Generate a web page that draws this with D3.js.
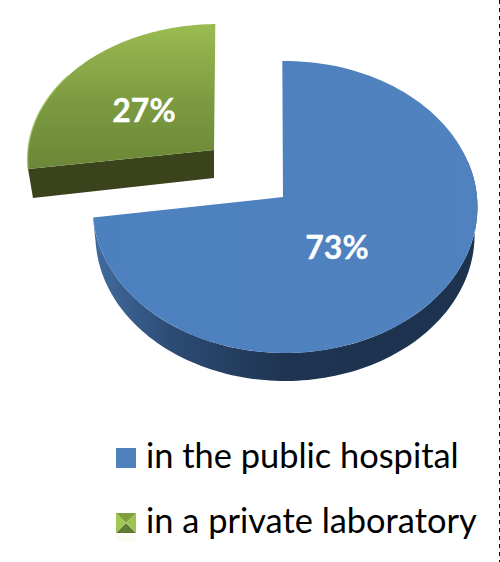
<!DOCTYPE html>
<html>
<head>
<meta charset="utf-8">
<script src="https://cdnjs.cloudflare.com/ajax/libs/d3/7.8.5/d3.min.js"></script>
<style>
html, body { margin: 0; padding: 0; background: #fff; }
svg { display: block; }
</style>
</head>
<body>
<div id="chart"></div>
<script>
const categories = ["in the public hospital", "in a private laboratory"];
const shares = [73, 27];
const shareLabels = ["73%", "27%"];

const width = 500, height = 562;
const tilt = 0.0685;   // perspective of the disc
const depth = 28;
const startAt = -0.015;

// per slice placement of the disc
const placement = [
    { cx: 285, cy: 197, rx: 192, ry: 145.3, shrink: 0.985 },
    { cx: 218, cy: 150, rx: 190, ry: 134.6, shrink: 0.985 }
];
const labelPos = [[337, 247], [144, 110]];
const legendY = [458, 523];

const svg = d3.select('#chart')
    .append('svg')
    .attr('width', width)
    .attr('height', height);

const defs = svg.append('defs');

function linear(id, stops, x1, x2, y2, units) {
    const g = defs.append('linearGradient')
        .attr('id', id)
        .attr('x1', x1).attr('y1', 0)
        .attr('x2', x2).attr('y2', y2);
    if (units) g.attr('gradientUnits', units);
    stops.forEach(s => g.append('stop').attr('offset', s[0]).attr('stop-color', s[1]));
}

linear('blueTop', [[0, '#4d80bf'], [1, '#4f82be']], 0, 1, 0);
linear('blueSide', [[0, '#1c324e'], [0.5, '#1e3450'], [0.8, '#2d4c75'], [1, '#426c9f']], 477, 93, 0, 'userSpaceOnUse');
linear('greenTop', [[0, '#9bbb52'], [0.55, '#7b9a40'], [1, '#6b8738']], 0, 0, 1);

// angle on the disc -> page position, z goes down the rim
function project(p, angle, r, z) {
    const u = Math.sin(angle) * r;
    const v = -Math.cos(angle) * r;
    const w = 1 - tilt * v;
    const s = 1 - (1 - p.shrink) * z / depth;
    return [p.cx + p.rx * u / w * s, p.cy + p.ry * v / w + z];
}

function arcPoints(p, a0, a1, z) {
    return d3.range(0, 121).map(i => project(p, a0 + (a1 - a0) * i / 120, 1, z));
}

const line = d3.line().curve(d3.curveLinear);
const slices = d3.pie().sort(null).startAngle(startAt).endAngle(startAt + 2 * Math.PI)(shares);

// green slice: cut face, then top
const green = slices[1];
const gp = placement[1];
const gLeft = project(gp, green.startAngle, 1, 0);
const gLeftLow = project(gp, green.startAngle, 1, 29);
gLeftLow[0] += 2;
svg.append('path')
    .attr('d', line([gLeft, [gp.cx - 4, gp.cy], [gp.cx - 4, gp.cy + depth], gLeftLow]) + 'Z')
    .attr('fill', '#3a431c');
svg.append('path')
    .attr('d', line([[gp.cx - 4, gp.cy]].concat(arcPoints(gp, green.startAngle, green.endAngle, 0))) + 'Z')
    .attr('fill', 'url(#greenTop)');
svg.append('path')
    .attr('d', line(arcPoints(gp, green.startAngle, green.startAngle + 0.75, 0)))
    .attr('fill', 'none')
    .attr('stroke', '#a3c25e')
    .attr('stroke-width', 1.5)
    .attr('opacity', 0.7);

// blue slice: rim, then top
const blue = slices[0];
const bp = placement[0];
const rimStart = Math.PI * 0.42;
const rimTop = arcPoints(bp, rimStart, blue.endAngle, 0);
const rimLow = arcPoints(bp, rimStart, blue.endAngle, depth).reverse();
svg.append('path')
    .attr('d', line(rimTop.concat(rimLow)) + 'Z')
    .attr('fill', 'url(#blueSide)');

svg.append('path')
    .attr('d', line([[bp.cx - 2, bp.cy]].concat(arcPoints(bp, blue.startAngle, blue.endAngle, 0))) + 'Z')
    .attr('fill', 'url(#blueTop)');

// value labels
svg.selectAll('text.value')
    .data(shareLabels)
    .enter()
    .append('text')
    .attr('class', 'value')
    .attr('x', (d, i) => labelPos[i][0])
    .attr('y', (d, i) => labelPos[i][1] + 12)
    .attr('text-anchor', 'middle')
    .style('font-family', 'Lato')
    .style('font-weight', 700)
    .style('font-size', '32px')
    .attr('fill', '#fff')
    .attr('stroke', '#fff')
    .attr('stroke-width', 0.3)
    .text(d => d);

// legend
const legend = svg.selectAll('g.legend')
    .data(categories)
    .enter()
    .append('g')
    .attr('class', 'legend')
    .attr('transform', (d, i) => `translate(116,${legendY[i]})`);

legend.append('text')
    .attr('x', 30)
    .attr('y', 10)
    .style('font-family', 'Lato')
    .style('font-size', '34.4px')
    .attr('fill', '#000')
    .text(d => d);

const s = 20;
d3.select(legend.nodes()[0]).append('rect')
    .attr('x', 0).attr('y', -10).attr('width', s).attr('height', s)
    .attr('fill', '#4f81bd');

// green swatch is a bevelled square
const bevel = [
    [[0, 0], [s, 0], [s / 2, s / 2], '#7d9f3c'],
    [[0, s], [s, s], [s / 2, s / 2], '#5f7b30'],
    [[0, 0], [0, s], [s / 2, s / 2], '#a0c654'],
    [[s, 0], [s, s], [s / 2, s / 2], '#9cc250']
];
d3.select(legend.nodes()[1]).selectAll('path')
    .data(bevel)
    .enter()
    .append('path')
    .attr('transform', `translate(0,${-10})`)
    .attr('d', d => line(d.slice(0, 3)) + 'Z')
    .attr('fill', d => d[3]);

// faint reflection under the green swatch
d3.select(legend.nodes()[1]).append('rect')
    .attr('x', 0).attr('y', 12).attr('width', s).attr('height', 7)
    .attr('fill', '#fbfbf3');

// dashed frame edge on the right
svg.append('line')
    .attr('x1', 499.5).attr('x2', 499.5)
    .attr('y1', 0).attr('y2', height)
    .attr('stroke', '#000')
    .attr('stroke-width', 1)
    .attr('stroke-dasharray', '4,4');
</script>
</body>
</html>
